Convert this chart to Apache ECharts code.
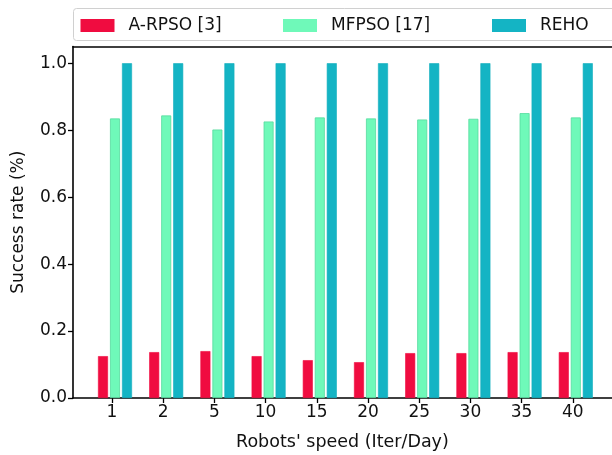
<!DOCTYPE html>
<html>
<head>
<meta charset="utf-8">
<script src="https://cdn.jsdelivr.net/npm/echarts@6/dist/echarts.min.js"></script>
<style>html,body{margin:0;padding:0;background:#fff}#c{width:612px;height:455px}</style>
</head>
<body>
<div id="c"></div>
<script>
var categories = ['1','2','5','10','15','20','25','30','35','40'];
var arpso = [0.125,0.137,0.140,0.125,0.113,0.107,0.134,0.134,0.137,0.137];
var mfpso = [0.835,0.844,0.802,0.826,0.838,0.835,0.832,0.834,0.851,0.838];
var reho  = [1.0,1.0,1.0,1.0,1.0,1.0,1.0,1.0,1.0,1.0];
var seriesNames = ['A-RPSO [3]','MFPSO [17]','REHO'];
var yTicks = [0,0.2,0.4,0.6,0.8,1.0];

var FONT = 'DejaVu Sans';
var FS = 17;
var colors = ['#F00C40','#6FF9B9','#14B4C4'];
var edges = ['#F00C40','#55DB9E','#12AEBD'];
var TOP = 46.5, BOTTOM = 57;
var TXT = '#111';
var SPINE = {show:true, lineStyle:{color:'#000', width:1.6}};

var chart = echarts.init(document.getElementById('c'), null, {renderer:'canvas'});
function legendAt(i, left){
  return {
    data:[seriesNames[i]], left:left, top:12, itemWidth:34, itemHeight:13,
    icon:'rect', itemStyle:{borderWidth:0},
    textStyle:{fontFamily:FONT, fontSize:FS, color:TXT, padding:[0,0,0,9]}
  };
}
var option = {
  animation:false,
  backgroundColor:'#fff',
  legend:[legendAt(0,75.5), legendAt(1,278), legendAt(2,487)],
  graphic:[{type:'rect', shape:{x:73.5,y:8.5,width:600,height:32,r:3}, style:{fill:'rgba(255,255,255,0.8)',stroke:'#d0d0d0',lineWidth:1}, z:-1}],
  grid:[
    {left:73, right:0, top:TOP, bottom:BOTTOM, outerBoundsMode:'none'},
    {left:86.4, right:13.6, top:TOP, bottom:BOTTOM, outerBoundsMode:'none'},
    {left:89.4, right:10.6, top:TOP, bottom:BOTTOM, outerBoundsMode:'none'}
  ],
  xAxis:[
    {gridIndex:0, type:'value', min:0, max:1, position:'bottom', axisLine:SPINE, axisTick:{show:false}, axisLabel:{show:false}, splitLine:{show:false}},
    {gridIndex:1, type:'category', data:categories, boundaryGap:true,
     axisLine:{show:false}, axisTick:{show:true, alignWithLabel:true, length:5, lineStyle:{color:'#000',width:1.3}},
     axisLabel:{fontFamily:FONT, fontSize:FS, color:TXT, margin:6},
     name:"Robots' speed (Iter/Day)", nameLocation:'middle', nameGap:35,
     nameTextStyle:{fontFamily:FONT, fontSize:17.5, color:TXT}},
    {gridIndex:2, type:'category', data:categories, boundaryGap:true, show:false},
    {gridIndex:0, type:'value', min:0, max:1, position:'top', axisLine:SPINE, axisTick:{show:false}, axisLabel:{show:false}, splitLine:{show:false}}
  ],
  yAxis:[
    {gridIndex:0, type:'value', min:0, max:1.05,
     axisLine:SPINE, splitLine:{show:false},
     axisTick:{show:true, length:5, customValues:yTicks, lineStyle:{color:'#000',width:1.3}},
     axisLabel:{fontFamily:FONT, fontSize:FS, color:TXT, margin:6, customValues:yTicks, formatter:function(v){return v.toFixed(1);}},
     name:'Success rate (%)', nameLocation:'middle', nameGap:46,
     nameTextStyle:{fontFamily:FONT, fontSize:FS, color:TXT}},
    {gridIndex:1, type:'value', min:0, max:1.05, show:false},
    {gridIndex:2, type:'value', min:0, max:1.05, show:false}
  ],
  series:[
    {name:seriesNames[0], type:'bar', xAxisIndex:2, yAxisIndex:2, data:arpso, barWidth:10, barGap:'20%',
     itemStyle:{color:colors[0], borderColor:edges[0], borderWidth:0.6}},
    {name:seriesNames[1], type:'bar', xAxisIndex:2, yAxisIndex:2, data:mfpso, barWidth:10, barGap:'20%',
     itemStyle:{color:colors[1], borderColor:edges[1], borderWidth:0.8}},
    {name:seriesNames[2], type:'bar', xAxisIndex:2, yAxisIndex:2, data:reho, barWidth:10, barGap:'20%',
     itemStyle:{color:colors[2], borderColor:edges[2], borderWidth:0.6}}
  ]
};
chart.setOption(option);
</script>
</body>
</html>
